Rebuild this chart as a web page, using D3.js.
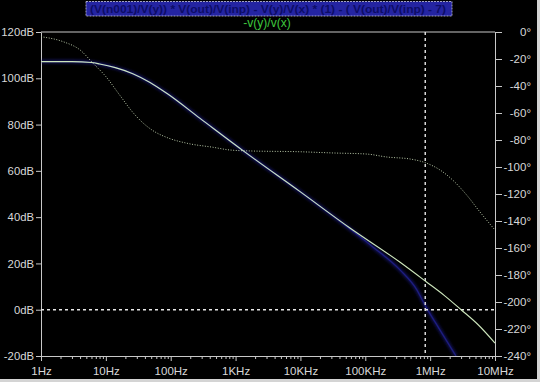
<!DOCTYPE html>
<html><head><meta charset="utf-8">
<script src="https://cdn.jsdelivr.net/npm/d3@7/dist/d3.min.js"></script>
<style>
html,body{margin:0;padding:0;background:#000;}
svg{display:block;}
text{font-family:"Liberation Sans",Arial,sans-serif;}
</style></head>
<body>
<script>
// ---- data ----
const magFreq = [1, 3, 6, 8, 14, 26, 48, 88, 280, 1400, 10000, 58000, 340000, 860000, 1700000, 3000000, 5500000, 10000000];
const magDb   = [107.2, 107.2, 106.8, 106.2, 104.6, 102.0, 98.2, 93.4, 82.8, 68.1, 50.9, 35.3, 20.6, 12.2, 5.9, 0, -6.5, -14.4];

const phaseFreq = [1, 2.2, 4, 6.3, 10, 16.5, 26, 34, 53, 88, 178, 450, 820, 1660, 9800, 31600, 105000, 215000, 495000, 863000, 1420000, 2220000, 3650000, 5860000, 10000000];
const phaseDeg  = [-3.5, -7.2, -13.3, -23, -33, -47, -59.5, -65.5, -73, -78.2, -82.4, -85.4, -87.4, -88.1, -88.7, -89.6, -90.4, -92.6, -94.1, -97, -102.2, -109.6, -120.7, -133.3, -146.7];

const blueFreq = [1, 3, 6, 8, 14, 26, 48, 88, 280, 1400, 10000, 58000, 131000, 343000, 627000, 832000, 1420000, 2500000];
const blueDb   = [107.2, 107.2, 106.8, 106.2, 104.6, 102.0, 98.2, 93.4, 82.8, 68.1, 50.9, 34.9, 27.1, 17.2, 8.5, 2.0, -8.8, -20];

const dbTicks = [-20, 0, 20, 40, 60, 80, 100, 120];
const degTicks = [0, -20, -40, -60, -80, -100, -120, -140, -160, -180, -200, -220, -240];
const freqTicks = [1, 10, 100, 1000, 10000, 100000, 1000000, 10000000];
const freqLabels = ["1Hz", "10Hz", "100Hz", "1KHz", "10KHz", "100KHz", "1MHz", "10MHz"];
const cursorFreq = 840000;
const cursorDb = 0;
const titleText = "(V(n001)/V(y)) * V(out)/V(inp) - V(y)/V(x) * (1) - ( V(out)/V(inp) - 7)";
const traceLabel = "-v(y)/v(x)";

// ---- layout ----
const W = 540, H = 382;
const L = 41, R = 495, T = 32, B = 356;
const axisCol = "#c8c8c8";

const svg = d3.select("body").append("svg").attr("width", W).attr("height", H);
svg.append("rect").attr("width", W).attr("height", H).attr("fill", "#000");

const x = d3.scaleLog().domain([1, 1e7]).range([L, R]);
const yDb = d3.scaleLinear().domain([-20, 120]).range([B, T]);
const yPh = d3.scaleLinear().domain([-240, 0]).range([B, T]);

const defs = svg.append("defs");
defs.append("clipPath").attr("id", "clip").append("rect")
  .attr("x", L).attr("y", T).attr("width", R - L).attr("height", B - T);
const f = defs.append("filter").attr("id", "blur").attr("x", "-10%").attr("y", "-10%").attr("width", "120%").attr("height", "120%");
f.append("feGaussianBlur").attr("stdDeviation", 1.4);

// title box
svg.append("rect").attr("x", 86).attr("y", 1.5).attr("width", 366).attr("height", 14.5)
  .attr("fill", "#2424a2").attr("stroke", "#c8c8e0").attr("stroke-width", 0.8).attr("stroke-dasharray", "2,1");
svg.append("text").attr("x", 90).attr("y", 13).attr("fill", "#0c0c66")
  .attr("font-size", 11).attr("font-weight", "bold")
  .attr("textLength", 356).attr("lengthAdjust", "spacingAndGlyphs").text(titleText);

svg.append("text").attr("x", 267).attr("y", 27).attr("text-anchor", "middle")
  .attr("fill", "#3ec83e").attr("font-size", 12).text(traceLabel);

// axes
function styleAxis(g, size) {
  g.select(".domain").attr("stroke", axisCol);
  g.selectAll(".tick line").attr("stroke", axisCol);
  g.selectAll(".tick text").attr("fill", "#d8d8d8").attr("font-size", size || 12)
    .attr("font-family", "'Liberation Sans',Arial,sans-serif");
}

svg.append("g").attr("transform", `translate(${L},0)`)
  .call(d3.axisLeft(yDb).tickValues(dbTicks).tickFormat(d => d + "dB").tickSize(5).tickPadding(2).tickSizeOuter(0))
  .call(g => styleAxis(g, 11.3));

const gr = svg.append("g").attr("transform", `translate(${R},0)`)
  .call(d3.axisRight(yPh).tickValues(degTicks).tickFormat(d => d + "°").tickSize(7).tickPadding(2).tickSizeOuter(0))
  .call(g => styleAxis(g, 11.5));
gr.selectAll(".tick text").attr("text-anchor", "end").attr("x", 36);

// bottom axis with minor log ticks
const minor = [];
for (let d = 1; d < 1e7; d *= 10) for (let k = 2; k <= 9; k++) minor.push(d * k);
svg.append("g").attr("transform", `translate(0,${B})`)
  .call(d3.axisBottom(x).tickValues(minor).tickFormat("").tickSize(3).tickSizeOuter(0))
  .call(g => styleAxis(g));
svg.append("g").attr("transform", `translate(0,${B})`)
  .call(d3.axisBottom(x).tickValues(freqTicks).tickFormat((d, i) => freqLabels[i]).tickSize(5).tickPadding(6).tickSizeOuter(0))
  .call(g => styleAxis(g, 11.5));

// top frame
svg.append("line").attr("x1", L).attr("x2", R).attr("y1", T).attr("y2", T).attr("stroke", axisCol);

const plot = svg.append("g").attr("clip-path", "url(#clip)");

// blue trace (glow)
const blueLine = d3.line().x((d, i) => x(blueFreq[i])).y(d => yDb(d)).curve(d3.curveMonotoneX);
plot.append("path").datum(blueDb).attr("d", blueLine).attr("fill", "none")
  .attr("stroke", "#2222b0").attr("stroke-width", 3.5).attr("opacity", 0.5).attr("filter", "url(#blur)");
plot.append("path").datum(blueDb).attr("d", blueLine).attr("fill", "none")
  .attr("stroke", "#2a2aa8").attr("stroke-width", 1.3).attr("opacity", 0.6);

// cursors
plot.append("line").attr("x1", L).attr("x2", R).attr("y1", yDb(cursorDb)).attr("y2", yDb(cursorDb))
  .attr("stroke", "#e8e8e8").attr("stroke-width", 1.4).attr("stroke-dasharray", "3,3");
plot.append("line").attr("x1", x(cursorFreq)).attr("x2", x(cursorFreq)).attr("y1", T).attr("y2", B)
  .attr("stroke", "#e8e8e8").attr("stroke-width", 1.4).attr("stroke-dasharray", "3,3");

// phase (dotted)
const phLine = d3.line().x((d, i) => x(phaseFreq[i])).y(d => yPh(d)).curve(d3.curveMonotoneX);
plot.append("path").datum(phaseDeg).attr("d", phLine).attr("fill", "none")
  .attr("stroke", "#b8c8a8").attr("stroke-width", 1).attr("stroke-dasharray", "1,1.6");

// magnitude
const magLine = d3.line().x((d, i) => x(magFreq[i])).y(d => yDb(d)).curve(d3.curveMonotoneX);
plot.append("path").datum(magDb).attr("d", magLine).attr("fill", "none")
  .attr("stroke", "#cde6bc").attr("stroke-width", 1.1);

// window edges
svg.append("rect").attr("x", 537).attr("y", 0).attr("width", 3).attr("height", H).attr("fill", "#d4d4d4");
svg.append("rect").attr("x", 0).attr("y", 379).attr("width", W).attr("height", 3).attr("fill", "#d4d4d4");
</script>
</body></html>
